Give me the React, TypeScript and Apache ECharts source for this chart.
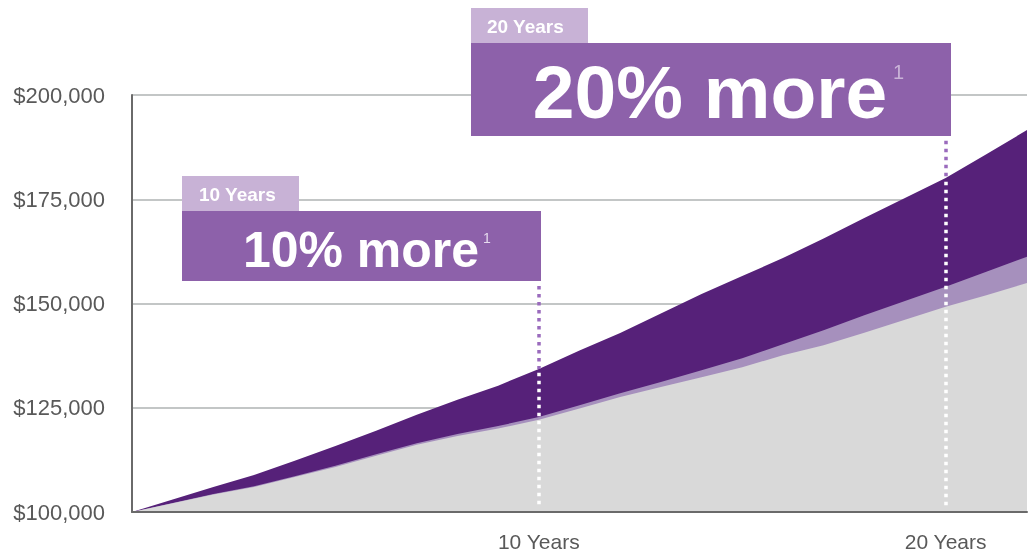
import { useEffect, useRef } from 'react';
import * as echarts from 'echarts';

// Years since start
const years = [0, 1, 2, 3, 4, 5, 6, 7, 8, 9, 10, 11, 12, 13, 14, 15, 16, 17, 18, 19, 20, 21, 22];

// Top (dark purple) series
const topValues = [
  100000, 103000, 106000, 108900, 112300, 115800, 119500, 123300, 126900, 130300, 134300,
  138700, 142900, 147600, 152300, 156600, 160900, 165600, 170500, 175300, 180100, 185800, 191600,
];

// Middle (light purple) series
const midValues = [
  100000, 102150, 104300, 106150, 108600, 111100, 113850, 116500, 118700, 120600, 122800,
  125600, 128500, 131200, 134000, 136900, 140200, 143600, 147200, 150600, 154000, 157600, 161200,
];

// Base (gray) series
const baseValues = [
  100000, 102100, 104200, 106000, 108400, 110800, 113500, 116100, 118200, 120000, 122100,
  124800, 127600, 130000, 132300, 134700, 137600, 140000, 143000, 146100, 149200, 152000, 154900,
];

const xTickLabels: Record<number, string> = { 10: '10 Years', 20: '20 Years' };

// Callout markers: year, where the dotted line starts (value), tab and headline text
const markerYears = [10, 20];
const markerStarts = [154200, 189000];
const tabTexts = ['10 Years', '20 Years'];
const headlineTexts = ['10% more', '20% more'];

const FONT = '"Liberation Sans", Arial, Helvetica, sans-serif';

export default function App() {
  const ref = useRef<HTMLDivElement>(null);

  useEffect(() => {
    const chart = echarts.init(ref.current!, null, { renderer: 'svg' });

    const toPairs = (vals: number[]) => years.map((y, i) => [y, vals[i]]);

    const markLines: any[] = [];
    markerYears.forEach((yr, i) => {
      const idx = years.indexOf(yr);
      markLines.push([
        { coord: [yr, markerStarts[i]], lineStyle: { color: '#9a6bbd', width: 3.5, type: [3.5, 4.5] } },
        { coord: [yr, topValues[idx]] },
      ]);
      markLines.push([
        { coord: [yr, topValues[idx] - 900], lineStyle: { color: '#ffffff', width: 3.5, type: [3.5, 4.5] } },
        { coord: [yr, 101200] },
      ]);
    });

    chart.setOption({
      animation: false,
      grid: { left: 132, right: 2, top: 95, bottom: 40, containLabel: false },
      xAxis: {
        type: 'value',
        min: 0,
        max: 22,
        interval: 10,
        z: 5,
        axisLine: { show: true, lineStyle: { color: '#6a6a6a', width: 2 } },
        axisTick: { show: false },
        splitLine: { show: false },
        axisLabel: {
          margin: 19,
          color: '#595959',
          fontSize: 21,
          fontFamily: FONT,
          showMinLabel: false,
          showMaxLabel: false,
          formatter: (v: number) => xTickLabels[v] || '',
        },
      },
      yAxis: {
        type: 'value',
        min: 100000,
        max: 200000,
        interval: 25000,
        axisLine: { show: true, lineStyle: { color: '#6a6a6a', width: 2 } },
        axisTick: { show: false },
        splitLine: { show: true, lineStyle: { color: '#c3c6c6', width: 2 } },
        axisLabel: {
          margin: 27,
          color: '#595959',
          fontSize: 22,
          fontFamily: FONT,
          formatter: (v: number) => '$' + v.toLocaleString('en-US'),
        },
      },
      series: [
        {
          type: 'line',
          data: toPairs(topValues),
          symbol: 'none',
          lineStyle: { width: 0 },
          areaStyle: { color: '#562179', opacity: 1, origin: 'start' },
        },
        {
          type: 'line',
          data: toPairs(midValues),
          symbol: 'none',
          lineStyle: { width: 0 },
          areaStyle: { color: '#a690bd', opacity: 1, origin: 'start' },
        },
        {
          type: 'line',
          data: toPairs(baseValues),
          symbol: 'none',
          lineStyle: { width: 0 },
          areaStyle: { color: '#d9d9d9', opacity: 1, origin: 'start' },
        },
        {
          type: 'line',
          data: toPairs(topValues),
          symbol: 'none',
          z: 4,
          lineStyle: { width: 0, opacity: 0 },
          markLine: {
            silent: true,
            symbol: ['none', 'none'],
            label: { show: false },
            data: markLines,
          },
        },
      ],
      graphic: [
        // 10 Years callout
        { type: 'rect', z: 10, shape: { x: 182, y: 176, width: 117, height: 35 }, style: { fill: '#c8b2d6' } },
        { type: 'rect', z: 10, shape: { x: 182, y: 211, width: 359, height: 70 }, style: { fill: '#8d61aa' } },
        {
          type: 'text', z: 11, x: 199, y: 194,
          style: { text: tabTexts[0], fill: '#ffffff', font: `bold 19px ${FONT}`, textVerticalAlign: 'middle' },
        },
        {
          type: 'text', z: 11, x: 361, y: 250,
          style: { text: headlineTexts[0], fill: '#ffffff', font: `bold 50px ${FONT}`, textAlign: 'center', textVerticalAlign: 'middle' },
        },
        {
          type: 'text', z: 11, x: 483, y: 238,
          style: { text: '1', fill: '#e6dbee', font: `14px ${FONT}`, textVerticalAlign: 'middle' },
        },
        // 20 Years callout
        { type: 'rect', z: 10, shape: { x: 471, y: 8, width: 117, height: 35 }, style: { fill: '#c8b2d6' } },
        { type: 'rect', z: 10, shape: { x: 471, y: 43, width: 480, height: 93 }, style: { fill: '#8d61aa' } },
        {
          type: 'text', z: 11, x: 487, y: 26,
          style: { text: tabTexts[1], fill: '#ffffff', font: `bold 19px ${FONT}`, textVerticalAlign: 'middle' },
        },
        {
          type: 'text', z: 11, x: 710, y: 92,
          style: { text: headlineTexts[1], fill: '#ffffff', font: `bold 75px ${FONT}`, textAlign: 'center', textVerticalAlign: 'middle' },
        },
        {
          type: 'text', z: 11, x: 893, y: 72,
          style: { text: '1', fill: '#c9b3d7', font: `20px ${FONT}`, textVerticalAlign: 'middle' },
        },
      ],
    });

    return () => chart.dispose();
  }, []);

  return <div ref={ref} style={{ position: 'fixed', left: 0, top: 0, width: 1029, height: 552 }} />;
}
